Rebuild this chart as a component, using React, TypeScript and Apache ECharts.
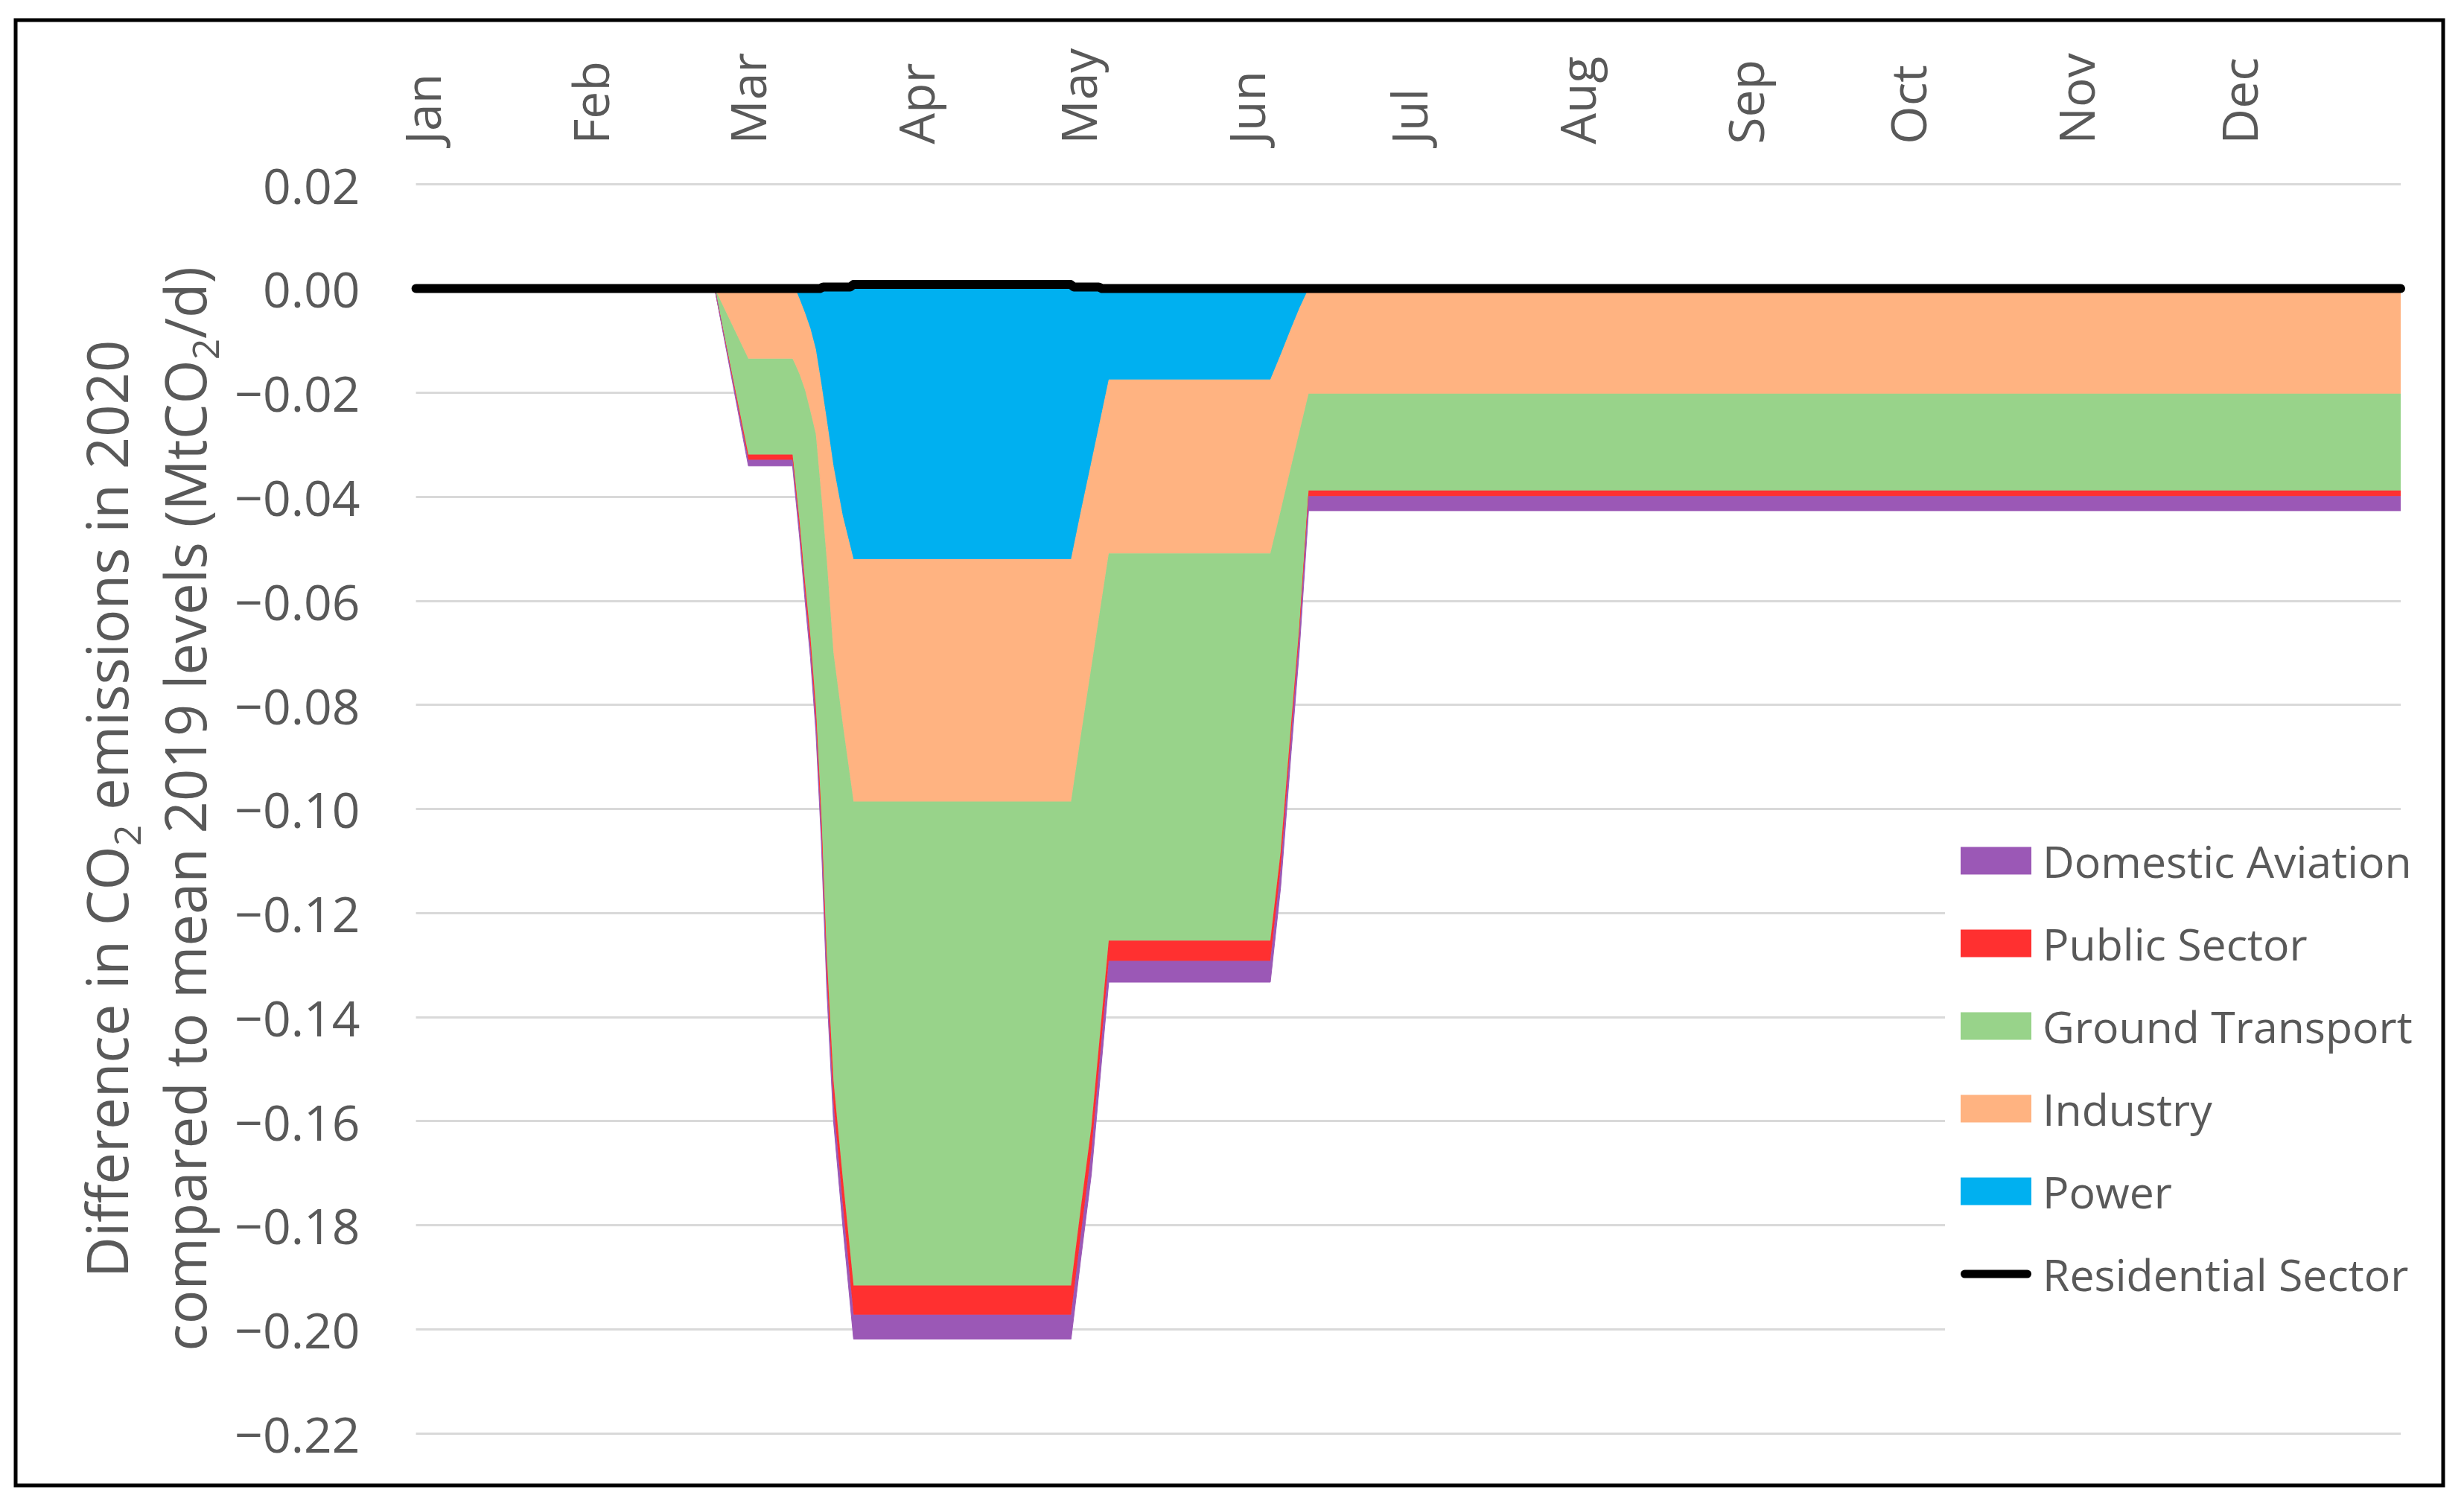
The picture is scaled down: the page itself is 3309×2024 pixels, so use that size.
import React, { useEffect, useRef } from 'react';
import * as echarts from 'echarts';

// Day of year (2020) at which the stacked sector values are read
const days = [0, 55.1, 61.3, 69.45, 69.95, 70.75, 71.75, 72.75, 73.75, 74.75, 75.75, 77.0, 78.7, 80.7, 120.8, 122.55, 124.55, 127.75, 157.55, 159.45, 161.4, 162.9, 164.6, 366];

// Sector differences (MtCO2/d), stacked downward from zero
const power = [0, 0, 0, 0, 0, -0.002, -0.0047, -0.0077, -0.0117, -0.0182, -0.0251, -0.0341, -0.0436, -0.052, -0.052, -0.0431, -0.0333, -0.0175, -0.0175, -0.0127, -0.0076, -0.0038, 0, 0];
const industry = [0, 0, -0.0135, -0.0135, -0.0146, -0.0145, -0.0148, -0.0159, -0.0163, -0.0215, -0.0269, -0.0359, -0.04, -0.0466, -0.0466, -0.0432, -0.0394, -0.0334, -0.0334, -0.03, -0.0265, -0.0238, -0.0202, -0.0202];
const ground = [0, 0, -0.0184, -0.0184, -0.0223, -0.0284, -0.037, -0.0434, -0.0525, -0.061, -0.076, -0.0823, -0.0873, -0.093, -0.093, -0.0908, -0.0884, -0.0744, -0.0744, -0.0656, -0.0494, -0.0373, -0.0186, -0.0186];
const publicSector = [0, 0, -0.001, -0.001, -0.0012, -0.0015, -0.0018, -0.0021, -0.0025, -0.003, -0.0035, -0.0042, -0.005, -0.0056, -0.0056, -0.0052, -0.0047, -0.0039, -0.0039, -0.0031, -0.0022, -0.0016, -0.0011, -0.0011];
const aviation = [0, 0, -0.0012, -0.0012, -0.0013, -0.0015, -0.0017, -0.0019, -0.0022, -0.0025, -0.003, -0.0035, -0.0041, -0.0047, -0.0047, -0.0046, -0.0044, -0.0041, -0.0041, -0.0037, -0.0033, -0.003, -0.0028, -0.0028];

// Residential sector line
const residentialDays = [0, 74.5, 75.1, 80.1, 80.7, 120.7, 121.3, 125.9, 126.5, 366];
const residential = [0, 0, 0.0003, 0.0003, 0.0008, 0.0008, 0.0003, 0.0003, 0, 0];

// Axis ticks
const monthStarts = [1, 32, 61, 92, 122, 153, 183, 214, 245, 275, 306, 336];
const monthLabels = ['Jan', 'Feb', 'Mar', 'Apr', 'May', 'Jun', 'Jul', 'Aug', 'Sep', 'Oct', 'Nov', 'Dec'];
const yMin = -0.22;
const yMax = 0.02;
const yStep = 0.02;

const FONT = "'Open Sans', 'Noto Sans', sans-serif";
const TEXT = '#595959';

const areaDefs = [
  { name: 'Power', values: power, color: '#00B0F0' },
  { name: 'Industry', values: industry, color: '#FFB381' },
  { name: 'Ground Transport', values: ground, color: '#98D38A' },
  { name: 'Public Sector', values: publicSector, color: '#FF3030' },
  { name: 'Domestic Aviation', values: aviation, color: '#9B58B6' },
];

const legendOrder = ['Domestic Aviation', 'Public Sector', 'Ground Transport', 'Industry', 'Power', 'Residential Sector'];

export default function App() {
  const ref = useRef<HTMLDivElement>(null);

  useEffect(() => {
    if (!ref.current) return;
    const chart = echarts.init(ref.current, null, { renderer: 'svg' });

    // value first, day second: the first numeric dimension is the stacked one
    const series: any[] = areaDefs.map((d, k) => ({
      name: d.name,
      type: 'line',
      stack: 'total',
      stackStrategy: 'all',
      symbol: 'none',
      showSymbol: false,
      encode: { x: 1, y: 0 },
      data: days.map((x, i) => [d.values[i], x]),
      itemStyle: { color: d.color },
      lineStyle: { color: d.color, width: 1 },
      areaStyle: { color: d.color, opacity: 1 },
      z: 2 + k * 0.01,
      silent: true,
    }));
    series.push({
      name: 'Residential Sector',
      type: 'line',
      symbol: 'none',
      showSymbol: false,
      encode: { x: 1, y: 0 },
      data: residentialDays.map((x, i) => [residential[i], x]),
      itemStyle: { color: '#000000' },
      lineStyle: { color: '#000000', width: 12, cap: 'round', join: 'round' },
      z: 5,
      silent: true,
    });

    const option: any = {
      animation: false,
      backgroundColor: '#ffffff',
      textStyle: { fontFamily: FONT },
      grid: {
        left: 558.6,
        right: 85,
        top: 247.7,
        bottom: 99,
        containLabel: false,
        outerBoundsMode: 'none',
      },
      xAxis: {
        type: 'value',
        position: 'top',
        min: 0,
        max: 366,
        axisLine: { show: false },
        axisTick: { show: false },
        splitLine: { show: false },
        axisLabel: {
          customValues: monthStarts,
          rotate: 90,
          margin: 54,
          fontSize: 66,
          fontFamily: FONT,
          color: TEXT,
          formatter: (v: number) => {
            const i = monthStarts.indexOf(Math.round(v));
            return i >= 0 ? monthLabels[i] : '';
          },
        },
      },
      yAxis: {
        type: 'value',
        min: yMin,
        max: yMax,
        interval: yStep,
        axisLine: { show: false },
        axisTick: { show: false },
        splitLine: { show: true, lineStyle: { color: '#D9D9D9', width: 3 } },
        axisLabel: {
          margin: 75,
          fontSize: 66,
          fontFamily: FONT,
          color: TEXT,
          formatter: (v: number) => {
            const r = Math.round(v * 100) / 100;
            if (Math.abs(r) < 1e-9) return '0.00';
            return (r < 0 ? '\u2212' : '') + Math.abs(r).toFixed(2);
          },
        },
        name: '{a|Difference in CO}{s|2}{a| emissions in 2020}\n{a|compared to mean 2019 levels (MtCO}{s|2}{a|/d)}',
        nameLocation: 'middle',
        nameRotate: 90,
        nameGap: 259,
        nameTextStyle: {
          rich: {
            a: { fontSize: 76, lineHeight: 105, fontFamily: FONT, color: TEXT },
            s: { fontSize: 50, lineHeight: 48, verticalAlign: 'bottom', fontFamily: FONT, color: TEXT },
          },
        },
      },
      legend: {
        orient: 'vertical',
        left: 2612,
        top: 1096,
        padding: [30, 16, 90, 21],
        backgroundColor: '#ffffff',
        itemWidth: 95,
        itemHeight: 37,
        itemGap: 51,
        selectedMode: false,
        itemStyle: { borderWidth: 0 },
        textStyle: { fontFamily: FONT, fontSize: 59, lineHeight: 60, color: TEXT, padding: [0, 0, 0, 10] },
        data: legendOrder.map((n) =>
          n === 'Residential Sector'
            ? { name: n, icon: 'path://M0,0L95,0M0,37L95,37M5.5,13L89.5,13A5.5,5.5,0,0,1,89.5,24L5.5,24A5.5,5.5,0,0,1,5.5,13Z' }
            : { name: n, icon: 'rect' }
        ),
      },
      graphic: [
        {
          type: 'rect',
          shape: { x: 21, y: 27, width: 3260, height: 1968 },
          style: { fill: 'none', stroke: '#000000', lineWidth: 5 },
          silent: true,
          z: 50,
        },
      ],
      series,
    };

    chart.setOption(option);
    return () => {
      chart.dispose();
    };
  }, []);

  return (
    <div
      ref={ref}
      style={{ position: 'absolute', left: 0, top: 0, width: 3309, height: 2024, background: '#ffffff' }}
    />
  );
}
